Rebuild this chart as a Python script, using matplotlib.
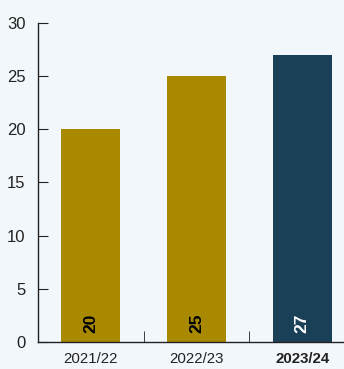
import matplotlib
matplotlib.use("Agg")
import matplotlib.pyplot as plt
from matplotlib import font_manager

categories = ["2021/22", "2022/23", "2023/24"]
values = [20, 25, 27]
bar_colors = ["#A88900", "#A88900", "#1A4058"]
label_colors = ["#000000", "#000000", "#FFFFFF"]

names = {f.name for f in font_manager.fontManager.ttflist}
family = "Liberation Sans Narrow" if "Liberation Sans Narrow" in names else "Liberation Sans"
plt.rcParams["font.family"] = [family, "DejaVu Sans"]

bg = "#F2F7FB"
fig = plt.figure(figsize=(3.44, 3.69), dpi=100, facecolor=bg)
ax = fig.add_axes([0.1105, 0.0732, 0.9215, 0.8645], facecolor=bg)

x = list(range(len(categories)))
ax.bar(x, values, width=0.56, color=bar_colors, zorder=2)

for xi, v, c in zip(x, values, label_colors):
    ax.text(xi, 0.85, f"{v}", rotation=90, ha="center", va="bottom",
            fontsize=12.5, fontweight="bold", color=c, zorder=3)

ax.set_xlim(-0.5, 2.5)
ax.set_ylim(0, 30)
ax.set_yticks([0, 5, 10, 15, 20, 25, 30])
ax.tick_params(axis="y", direction="in", length=7, labelsize=12, pad=9,
               color="#222222", labelcolor="#222222")

ax.set_xticks(x)
ax.set_xticklabels(categories)
ax.tick_params(axis="x", which="major", length=0, labelsize=10.8, pad=7,
               labelcolor="#222222")
ax.set_xticks([0.5, 1.5], minor=True)
ax.tick_params(axis="x", which="minor", direction="in", length=8, color="#222222")
ax.get_xticklabels()[-1].set_fontweight("bold")

for side in ["top", "right"]:
    ax.spines[side].set_visible(False)
for side in ["left", "bottom"]:
    ax.spines[side].set_color("#222222")
    ax.spines[side].set_linewidth(1.0)

fig.savefig("out.png", dpi=100, facecolor=bg)
